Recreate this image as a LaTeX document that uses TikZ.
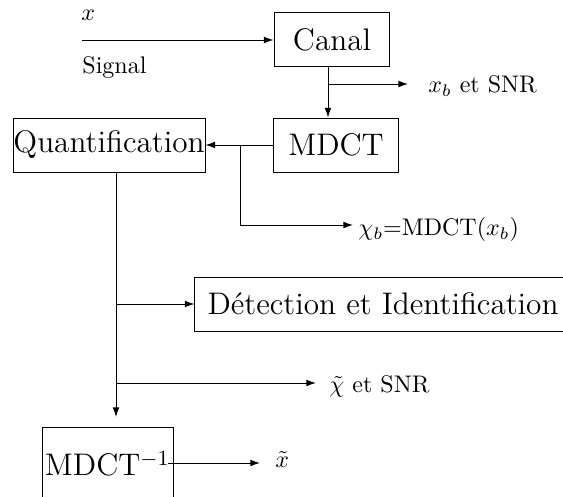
\documentclass[tikz,border=0pt]{standalone}
\usetikzlibrary{arrows.meta}
\begin{document}
\begin{tikzpicture}[x=0.41667pt,y=-0.41667pt,>={Latex[length=4pt,width=2.8pt]},
  blk/.style={draw,rectangle,inner sep=0pt,font=\fontsize{13}{15}\selectfont},
  lbl/.style={inner sep=0pt,anchor=base west}]
\clip (0,0) rectangle (563,497);
% blocks
\node[blk,minimum width=48.3pt,minimum height=22.1pt] (canal) at (332,39.5) {Canal};
\node[blk,minimum width=51.7pt,minimum height=22.5pt] (mdct) at (336,145) {MDCT};
\node[blk,minimum width=80pt,minimum height=22.5pt] (quant) at (109,145) {Quantification};
\node[blk,minimum width=156.7pt,minimum height=22.5pt] (det) at (383,304) {D\'etection et Identification};
\node[blk,minimum width=54.6pt,minimum height=30.8pt] (imdct) at (107.5,464) {MDCT$^{-1}$};
% coordinates
\coordinate (in) at (82,40);
\coordinate (c1) at (328,84);
\coordinate (xbt) at (408,84);
\coordinate (c2) at (240,145);
\coordinate (chibt) at (353,225);
\coordinate (qd) at (116,172);
\coordinate (b1) at (116,304);
\coordinate (b2) at (116,383);
\coordinate (tt) at (316,383);
\coordinate (qe) at (116,417);
\coordinate (os) at (168,463);
\coordinate (ot) at (260,463);
% labels
\node[lbl] (lx) at (81,21) {$x$};
\node[lbl] (lsig) at (82,74) {Signal};
\node[lbl] (lxb) at (428,93) {$x_b$ et SNR};
\node[lbl] (lchib) at (358,235.5) {$\chi_b$=MDCT($x_b$)};
\node[lbl] (lchit) at (329,393) {$\tilde{\chi}$ et SNR};
\node[lbl] (lxt) at (275,468) {$\tilde{x}$};
% connectors
\draw[->] (in) -- (canal.west |- in);
\draw[->] (canal.south -| c1) -- (mdct.north -| c1);
\draw[->] (c1) -- (xbt);
\draw[->] (mdct.west) -- (quant.east);
\draw[->] (c2) |- (chibt);
\draw[->] (quant.south -| qd) -- (qe);
\draw[->] (b1) -- (det.west);
\draw[->] (b2) -- (tt);
\draw[->] (os) -- (ot);
\end{tikzpicture}
\end{document}
